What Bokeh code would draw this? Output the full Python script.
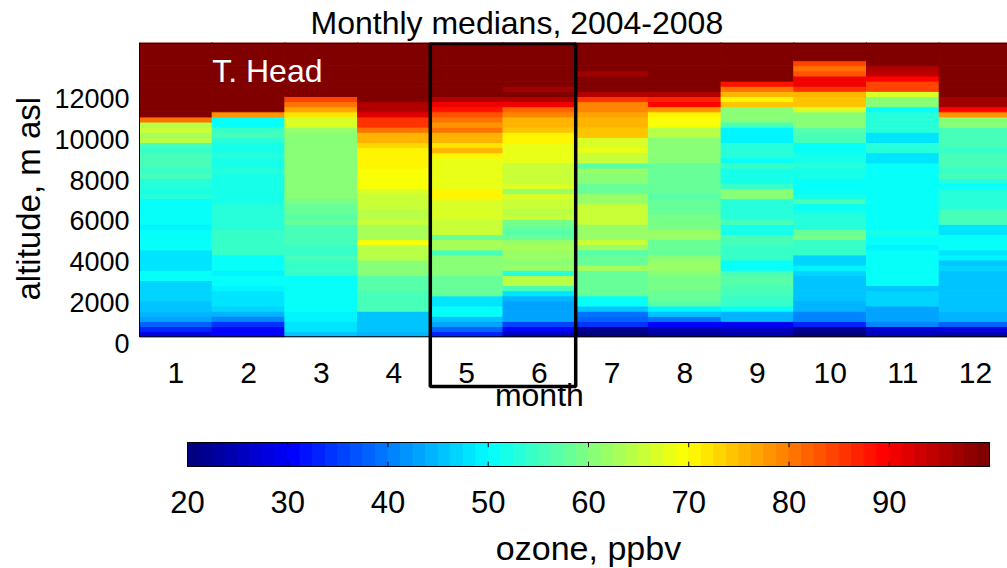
from bokeh.plotting import figure
from bokeh.models import (ColumnDataSource, LinearColorMapper, FixedTicker, BoxAnnotation,
                          Label, Range1d, Title)
from bokeh.core.properties import value
from bokeh.layouts import column
from bokeh.transform import transform
from bokeh.embed import file_html
from bokeh.resources import INLINE

# ---------------- data ----------------
MONTHS = [1, 2, 3, 4, 5, 6, 7, 8, 9, 10, 11, 12]
MONTH_LABELS = ["1", "2", "3", "4", "5", "6", "7", "8", "9", "10", "11", "12"]
ALT_BIN = 250          # m, height of one altitude bin
ALT_FIRST = 340        # m, bottom of the lowest bin (bottom of the axes)
ALT_TOP = 14681        # m, top of the axes
Y_TICKS = [0, 2000, 4000, 6000, 8000, 10000, 12000]
CB_TICKS = [20, 30, 40, 50, 60, 70, 80, 90]
CB_TICK_LABELS = ["20", "30", "40", "50", "60", "70", "80", "90"]
OZONE_LOW, OZONE_HIGH = 20, 100
HIGHLIGHT_MONTHS = (5, 6)

# monthly median ozone (ppbv), lowest bin first, 250 m bins
JAN = [28,33,38,43,44,46,46,47,47,47, 47,50,50,48,48,48,48,51,51,51, 51,49,50,50,50,50,50,53,52,53,
       53,55,54,55,56,55,54,55,64,63, 65,64,80,105,105,105,105,105,105,105, 105,105,105,105,105,105,105,105]
FEB = [30,30,34,41,44,47,48,48,48,49, 50,50,49,50,50,50,54,54,54,54, 54,53,53,53,53,53,52,52,52,52,
       52,52,53,52,52,53,52,52,53,55, 54,50,50,78,105,105,105,105,105,105, 105,105,105,105,105,105,105,105]
MAR = [45,48,48,49,49,50,50,50,51,51, 51,51,54,54,54,55,54,54,55,55, 56,55,58,57,58,58,59,60,60,61,
       60,60,61,60,61,60,60,61,60,61, 62,67,67,72,77,80,84,105,105,105, 105,105,105,105,105,105,105,105]
APR = [44,46,46,46,46,55,55,55,55,57, 57,57,60,60,60,64,64,64,69,63, 63,63,65,64,64,66,66,66,67,69,
       69,69,69,70,70,70,70,73,76,76, 80,86,86,92,96,96,105,105,105,105, 105,105,105,105,105,105,105,105]
MAY = [33,38,43,46,51,51,48,48,58,58, 58,58,60,60,60,60,55,63,63,58, 65,65,65,67,67,67,67,70,70,68,
       68,68,68,68,68,71,75,72,75,75, 80,78,80,83,88,90,95,105,105,105, 105,105,105,105,105,105,105,105]
JUN = [26,30,35,43,43,43,43,44,48,55, 64,64,53,62,61,62,62,63,62,58, 57,58,59,65,64,65,66,67,62,67,
       65,65,66,66,68,68,68,68,70,70, 74,76,76,79,82,90,95,105,97,105, 105,105,105,105,105,105,105,105]
JUL = [20,22,34,38,39,45,50,50,58,58, 58,58,58,63,58,58,57,62,66,62, 62,62,65,65,65,65,62,62,58,58,
       60,60,62,57,65,65,68,67,67,74, 74,75,75,77,79,79,86,96,105,105, 105,97,105,105,105,105,105,105]
AUG = [23,24,30,39,46,49,57,58,58,59, 59,59,61,62,62,61,58,58,58,62, 62,59,59,59,58,58,58,57,58,58,
       58,58,58,58,60,60,60,61,60,64, 64,69,69,71,78,89,87,96,105,105, 105,105,105,105,105,105,105,105]
SEP = [24,26,29,44,44,50,54,54,55,55, 57,57,56,50,50,54,54,54,55,55, 52,52,55,53,53,53,53,60,60,54,
       52,52,52,54,50,53,53,53,49,49, 49,55,60,60,60,74,70,76,81,88, 105,105,105,105,105,105,105,105]
OCT = [21,22,33,41,41,44,44,46,46,46, 46,46,47,49,47,47,54,54,54,59, 58,53,53,53,52,50,56,52,50,50,
       51,52,52,53,52,52,51,50,55,55, 57,60,60,60,67,74,74,75,86,91, 91,83,81,84,105,105,105,105]
NOV = [25,27,41,43,43,43,47,47,47,46, 50,50,50,51,50,50,50,49,51,51, 52,51,51,51,50,50,50,51,50,50,
       50,50,50,50,48,48,53,53,48,48, 53,53,53,53,50,60,60,67,84,84, 89,94,95,105,105,105,105,105]
DEC = [24,28,38,44,44,46,46,46,46,46, 46,46,46,47,46,49,48,50,50,50, 48,48,55,55,55,53,53,53,53,51,
       53,55,54,55,55,55,54,55,55,55, 56,61,61,78,89,97,97,105,105,105, 105,105,105,105,105,105,105,105]
PROFILES = [JAN, FEB, MAR, APR, MAY, JUN, JUL, AUG, SEP, OCT, NOV, DEC]

# ---------------- jet colormap (64 steps) ----------------
def jet(n):
    out = []
    for i in range(n):
        x = i / (n - 1)
        r = min(max(1.5 - abs(4 * x - 3), 0), 1)
        g = min(max(1.5 - abs(4 * x - 2), 0), 1)
        b = min(max(1.5 - abs(4 * x - 1), 0), 1)
        out.append("#%02x%02x%02x" % (round(r * 255), round(g * 255), round(b * 255)))
    return out

JET = jet(64)
mapper = LinearColorMapper(palette=JET, low=OZONE_LOW, high=OZONE_HIGH,
                           high_color=JET[-1], low_color=JET[0])

xs, ys, vs = [], [], []
for m, prof in zip(MONTHS, PROFILES):
    for i, v in enumerate(prof):
        xs.append(m)
        ys.append(ALT_FIRST + ALT_BIN * i + ALT_BIN / 2)
        vs.append(v)
src = ColumnDataSource(dict(month=xs, alt=ys, ozone=vs))

FONT = "Liberation Sans"

# ---------------- layout constants (pixels) ----------------
PX_PER_M = 0.0205
FRAME_LEFT = 138
FRAME_TOP_PX, AXES_BOTTOM_PX, FIG_H = 41, 336, 420
PX_PER_MONTH = 72.7
y_hi = ALT_FIRST + (AXES_BOTTOM_PX - FRAME_TOP_PX) / PX_PER_M
y_lo = ALT_FIRST - (FIG_H - AXES_BOTTOM_PX) / PX_PER_M
x_lo = 0.5 - 1 / PX_PER_MONTH
x_hi = 0.5 + (1007 - FRAME_LEFT - 1) / PX_PER_MONTH

def alt_at(py):
    return ALT_FIRST + (AXES_BOTTOM_PX - py) / PX_PER_M

# ---------------- main heatmap ----------------
p = figure(width=1007, height=FIG_H, output_backend="svg", toolbar_location=None,
           x_range=Range1d(x_lo, x_hi), y_range=Range1d(y_lo, y_hi), x_axis_location=None,
           min_border_left=FRAME_LEFT, min_border_right=0, min_border_top=FRAME_TOP_PX,
           min_border_bottom=0, title="Monthly medians, 2004-2008")
p.rect(x="month", y="alt", width=1, height=ALT_BIN, source=src,
       fill_color=transform("ozone", mapper), line_color=transform("ozone", mapper), line_width=1)
# axes box
p.quad(left=MONTHS[0] - 0.5, right=MONTHS[-1] + 0.5, bottom=ALT_FIRST, top=ALT_TOP,
       fill_color=None, line_color="black", line_width=1)

p.title.text_font = FONT
p.title.text_font_size = "32px"
p.title.text_font_style = "normal"
p.title.align = "left"
p.title.offset = 310 - FRAME_LEFT
p.title.standoff = 4
p.title.text_color = "black"

p.grid.visible = False
p.outline_line_color = None
p.background_fill_color = "white"

ya = p.yaxis[0]
ya.ticker = FixedTicker(ticks=Y_TICKS)
ya.major_label_text_font = FONT
ya.major_label_text_font_size = "27px"
ya.major_label_text_color = "black"
ya.major_tick_out = 0
ya.major_tick_in = 0
ya.minor_tick_line_color = None
ya.axis_line_color = None
ya.major_label_standoff = 9

p.add_layout(Title(text="altitude, m asl", align="left", offset=FIG_H - 300, standoff=10,
                   text_font=FONT, text_font_size="33px", text_font_style="normal",
                   text_color="black"), "left")

# month tick labels and axis label
p.text(x=MONTHS, y=alt_at(372.5), text=MONTH_LABELS, text_align="center", text_baseline="middle",
       text_font=value(FONT), text_font_size="30px", text_color="black")
p.add_layout(Label(x=6, y=alt_at(394), text="month", text_align="center", text_baseline="middle",
                   text_font=FONT, text_font_size="32px", text_color="black"))
p.add_layout(Label(x=1.5, y=alt_at(70), text="T. Head", text_align="left", text_baseline="middle",
                   text_font=FONT, text_font_size="32px", text_color="white"))
p.add_layout(BoxAnnotation(left=HIGHLIGHT_MONTHS[0] - 0.5, right=HIGHLIGHT_MONTHS[1] + 0.5,
                           bottom=alt_at(386), top=ALT_TOP,
                           fill_color=None, fill_alpha=0, line_color="black", line_alpha=1,
                           line_dash="solid", line_width=3.5))

# ---------------- colour bar ----------------
n = len(JET)
step = (OZONE_HIGH - OZONE_LOW) / n
cb_src = ColumnDataSource(dict(left=[OZONE_LOW + i * step for i in range(n)],
                               right=[OZONE_LOW + (i + 1) * step for i in range(n)],
                               color=JET))
CB_LEFT_PX, CB_RIGHT_PX = 187, 989
CB_TOP_PX, CB_H_PX = 442, 24          # colour bar spans y = 0..1
CB_FIG_TOP = FIG_H
CB_FRAME_TOP = 441
CB_PX_PER_UNIT = (CB_RIGHT_PX - CB_LEFT_PX) / (OZONE_HIGH - OZONE_LOW)
cb_lo = OZONE_LOW - (CB_LEFT_PX - FRAME_LEFT) / CB_PX_PER_UNIT
cb_hi = OZONE_HIGH + (1007 - CB_RIGHT_PX) / CB_PX_PER_UNIT

def cb_y(py):
    return 1 - (py - CB_TOP_PX) / CB_H_PX

cb = figure(width=1007, height=568 - CB_FIG_TOP, output_backend="svg", toolbar_location=None,
            x_range=Range1d(cb_lo, cb_hi), y_range=Range1d(cb_y(568), cb_y(CB_FRAME_TOP)),
            x_axis_location=None, y_axis_location=None,
            min_border_left=FRAME_LEFT, min_border_right=0,
            min_border_top=CB_FRAME_TOP - CB_FIG_TOP, min_border_bottom=0)
cb.quad(left="left", right="right", bottom=0, top=1, fill_color="color", line_color="color",
        line_width=1, source=cb_src)
cb.quad(left=OZONE_LOW, right=OZONE_HIGH, bottom=0, top=1, fill_color=None,
        line_color="black", line_width=1)
cb.segment(x0=CB_TICKS, x1=CB_TICKS, y0=0, y1=0.2, line_color="black", line_width=1)
cb.segment(x0=CB_TICKS, x1=CB_TICKS, y0=0.8, y1=1, line_color="black", line_width=1)
cb.text(x=CB_TICKS, y=cb_y(501.5), text=CB_TICK_LABELS, text_align="center", text_baseline="middle",
        text_font=value(FONT), text_font_size="31px", text_color="black")
cb.add_layout(Label(x=(OZONE_LOW + OZONE_HIGH) / 2, y=cb_y(547), text="ozone, ppbv",
                    text_align="center", text_baseline="middle",
                    text_font=FONT, text_font_size="34px", text_color="black"))
cb.grid.visible = False
cb.outline_line_color = None

layout = column(p, cb)
open("out.html", "w").write(file_html(layout, INLINE))
